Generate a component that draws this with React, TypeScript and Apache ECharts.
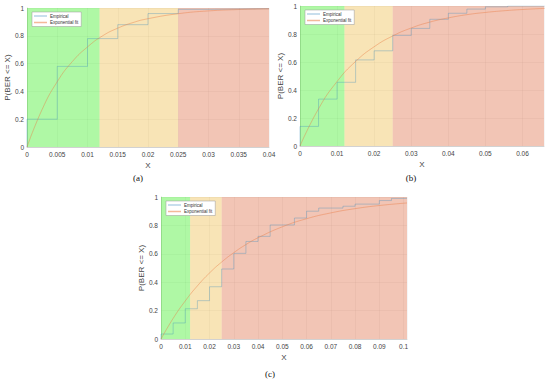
import React, { useEffect, useRef } from "react";
import * as echarts from "echarts";

// Panel (a)
const empAX = [0, 0, 0.005, 0.01, 0.015, 0.02, 0.025, 0.03, 0.04];
const empAY = [0, 0.2, 0.58, 0.78, 0.88, 0.96, 0.99, 0.995, 1];
const fitAX = [0, 0.0025, 0.005, 0.0075, 0.01, 0.0125, 0.015, 0.0175, 0.02, 0.025, 0.03, 0.035, 0.04];
const fitAY = [0, 0.27, 0.47, 0.615, 0.72, 0.8, 0.855, 0.895, 0.923, 0.959, 0.979, 0.989, 0.994];

// Panel (b)
const empBX = [0, 0, 0.005, 0.01, 0.015, 0.02, 0.025, 0.03, 0.035, 0.04, 0.045, 0.05, 0.056, 0.066];
const empBY = [0, 0.14, 0.335, 0.455, 0.615, 0.68, 0.79, 0.84, 0.905, 0.948, 0.978, 0.994, 1, 1];
const fitBX = [0, 0.005, 0.01, 0.015, 0.02, 0.025, 0.03, 0.035, 0.04, 0.045, 0.05, 0.055, 0.06, 0.066];
const fitBY = [0, 0.266, 0.461, 0.604, 0.709, 0.786, 0.843, 0.885, 0.915, 0.938, 0.954, 0.966, 0.975, 0.983];

// Panel (c)
const empCX = [0, 0, 0.005, 0.01, 0.015, 0.02, 0.025, 0.03, 0.035, 0.04, 0.045, 0.055, 0.06, 0.065, 0.075, 0.08, 0.09, 0.095, 0.1014];
const empCY = [0, 0.035, 0.113, 0.213, 0.27, 0.368, 0.493, 0.603, 0.687, 0.723, 0.803, 0.852, 0.9, 0.922, 0.935, 0.95, 0.975, 0.99, 0.99];
const fitCX = [0, 0.005, 0.01, 0.015, 0.02, 0.025, 0.03, 0.035, 0.04, 0.05, 0.06, 0.07, 0.08, 0.09, 0.1014];
const fitCY = [0, 0.145, 0.268, 0.374, 0.465, 0.542, 0.608, 0.665, 0.713, 0.79, 0.847, 0.888, 0.918, 0.94, 0.958];

const zoneBounds = [0, 0.012, 0.025];
const zoneColors = ["rgba(45,237,18,0.38)", "rgba(232,165,12,0.3)", "rgba(218,89,44,0.35)"];
const captions = ["(a)", "(b)", "(c)"];

const panels = [
  { ex: empAX, ey: empAY, fx: fitAX, fy: fitAY, max: 0.04, interval: 0.005, showMax: true, grid: { left: 27, top: 8, width: 242, height: 139 }, yGap: 13, cap: [138, 178] },
  { ex: empBX, ey: empBY, fx: fitBX, fy: fitBY, max: 0.0658, interval: 0.01, showMax: false, grid: { left: 300, top: 6, width: 244, height: 140 }, yGap: 13, cap: [411, 178] },
  { ex: empCX, ey: empCY, fx: fitCX, fy: fitCY, max: 0.1014, interval: 0.01, showMax: false, grid: { left: 161, top: 197, width: 246, height: 142 }, yGap: 14, cap: [270, 374] },
];

const zip = (xs: number[], ys: number[]) => xs.map((x, i) => [x, ys[i]]);
const fmt = (v: number) => String(+v.toFixed(4));

export default function App() {
  const ref = useRef<HTMLDivElement>(null);
  useEffect(() => {
    const chart = echarts.init(ref.current!, undefined, { renderer: "svg" });
    const grids: any[] = [];
    const xAxes: any[] = [];
    const yAxes: any[] = [];
    const series: any[] = [];
    const legends: any[] = [];
    const graphics: any[] = [];
    panels.forEach((p, i) => {
      grids.push({ ...p.grid, containLabel: false });
      xAxes.push({
        type: "value", gridIndex: i, min: 0, max: p.max, interval: p.interval,
        name: "X", nameLocation: "middle", nameGap: 14,
        nameTextStyle: { fontSize: 8, color: "#444", fontFamily: "Liberation Sans" },
        axisLine: { show: true, lineStyle: { color: "#bbb", width: 0.6 } },
        axisTick: { show: false },
        axisLabel: { fontSize: 6.5, color: "#444", margin: 4, fontFamily: "Liberation Sans", formatter: (v: number) => fmt(v), showMaxLabel: p.showMax },
        splitLine: { show: true, lineStyle: { color: "rgba(0,0,0,0.07)", width: 0.6 } },
      });
      yAxes.push({
        type: "value", gridIndex: i, min: 0, max: 1, interval: 0.2,
        name: "P(BER <= X)", nameLocation: "middle", nameGap: p.yGap,
        nameTextStyle: { fontSize: 8, color: "#444", fontFamily: "Liberation Sans" },
        axisLine: { show: true, lineStyle: { color: "#bbb", width: 0.6 } },
        axisTick: { show: false },
        axisLabel: { fontSize: 6.5, color: "#444", margin: 3, fontFamily: "Liberation Sans", formatter: (v: number) => fmt(v) },
        splitLine: { show: true, lineStyle: { color: "rgba(0,0,0,0.07)", width: 0.6 } },
      });
      const ends = [zoneBounds[1], zoneBounds[2], p.max];
      series.push({
        type: "line", xAxisIndex: i, yAxisIndex: i, data: [], z: 1, silent: true,
        markArea: {
          silent: true,
          data: zoneBounds.map((b, k) => [
            { xAxis: b, yAxis: 0, itemStyle: { color: zoneColors[k] } },
            { xAxis: ends[k], yAxis: 1 },
          ]),
        },
      });
      series.push({
        name: "Empirical", type: "line", xAxisIndex: i, yAxisIndex: i, step: "end", z: 3,
        data: zip(p.ex, p.ey), showSymbol: false, symbol: "none",
        color: "rgba(60,140,190,0.38)",
        lineStyle: { width: 0.9, color: "rgba(60,140,190,0.38)" },
      });
      series.push({
        name: "Exponential fit", type: "line", xAxisIndex: i, yAxisIndex: i, smooth: true, z: 4,
        data: zip(p.fx, p.fy), showSymbol: false, symbol: "none",
        color: "rgba(235,125,70,0.55)",
        lineStyle: { width: 0.8, color: "rgba(235,125,70,0.55)" },
      });
      legends.push({
        data: ["Empirical", "Exponential fit"],
        left: p.grid.left + 5, top: p.grid.top + 4, orient: "vertical",
        itemWidth: 13, itemHeight: 1.5, itemGap: 1.5, icon: "rect",
        padding: [1.5, 3, 1.5, 2],
        backgroundColor: "#fff", borderColor: "#999", borderWidth: 0.5,
        textStyle: { fontSize: 4.5, color: "#333", padding: [0, 0, 0, -2], fontFamily: "Liberation Sans" },
        selectedMode: false,
      });
      graphics.push({
        type: "text", x: p.cap[0], y: p.cap[1],
        style: { text: captions[i], font: "9px 'Liberation Serif'", fill: "#111", textAlign: "center", textVerticalAlign: "middle" },
      });
    });
    chart.setOption({
      animation: false,
      grid: grids, xAxis: xAxes, yAxis: yAxes, series, legend: legends, graphic: graphics,
    });
    return () => chart.dispose();
  }, []);
  return <div ref={ref} style={{ width: 550, height: 382, position: "absolute", left: 0, top: 0, background: "#fff" }} />;
}
